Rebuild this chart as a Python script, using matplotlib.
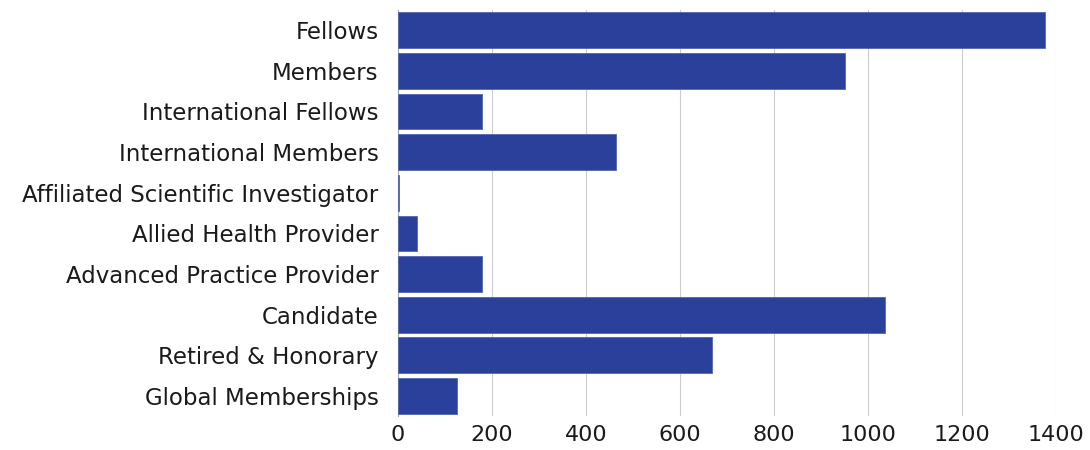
import matplotlib
matplotlib.use('Agg')
import matplotlib.pyplot as plt

plt.rcParams['font.family'] = ['DejaVu Sans']

# categorias y valores
categorias = ['Fellows', 'Members', 'International Fellows', 'International Members',
              'Affiliated Scientific Investigator', 'Allied Health Provider',
              'Advanced Practice Provider', 'Candidate', 'Retired & Honorary',
              'Global Memberships']
valores = [1377, 951, 178, 464, 3, 40, 178, 1035, 667, 126]
ticks_x = [0, 200, 400, 600, 800, 1000, 1200, 1400]

color_barra = '#2B409A'

fig = plt.figure(figsize=(10.9, 4.5), dpi=100)
ax = fig.add_axes([0.365, 0.075, 0.604, 0.903])

ax.barh(range(len(categorias)), valores, height=0.88, color=color_barra,
        edgecolor='#5566b0', linewidth=0.6, zorder=3)

ax.set_xlim(0, 1400)
ax.set_ylim(len(categorias) - 0.5, -0.5)
ax.set_yticks(range(len(categorias)))
ax.set_yticklabels(categorias, fontsize=16.5, color='#1a1a1a')
ax.set_xticks(ticks_x)
ax.set_xticklabels([str(t) for t in ticks_x], fontsize=16, color='#1a1a1a')
ax.tick_params(axis='x', length=0, pad=6)
ax.tick_params(axis='y', length=0, pad=14)

ax.grid(axis='x', color='#cccccc', linewidth=0.8, zorder=0)
for lado in ['top', 'right', 'bottom']:
    ax.spines[lado].set_visible(False)
ax.spines['left'].set_color('#aaaaaa')
ax.spines['left'].set_linewidth(0.8)

fig.savefig('out.png', dpi=100)
